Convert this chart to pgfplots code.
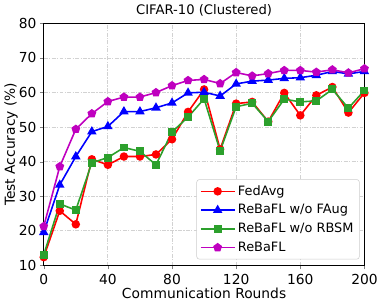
\documentclass[border=0pt]{standalone}
\usepackage{fontspec}
\setmainfont{DejaVu Sans}
\usepackage{pgfplots}
\pgfplotsset{compat=1.18}
\definecolor{mpred}{HTML}{FF0000}
\definecolor{mpblue}{HTML}{0000FF}
\definecolor{mpgreen}{HTML}{2CA02C}
\definecolor{mpmag}{HTML}{BF00BF}
\begin{document}
\begin{tikzpicture}
\begin{axis}[
  scale only axis,
  width=243.75pt, height=184pt,
  xmin=0, xmax=200, ymin=10, ymax=80,
  xtick={0,40,80,120,160,200},
  ytick={10,20,30,40,50,60,70,80},
  /pgf/number format/assume math mode=true,
  tick label style={font=\fontsize{10.5}{12}\selectfont},
  yticklabel style={xshift=1pt},
  label style={font=\fontsize{10.5}{12}\selectfont},
  title style={font=\fontsize{10}{12}\selectfont, yshift=-4pt},
  title={CIFAR-10 (Clustered)},
  xlabel={Communication Rounds},
  ylabel={Test Accuracy (\%)},
  xlabel style={yshift=4pt},
  ylabel style={yshift=-6pt},
  grid=major,
  major grid style={gray!35, line width=0.6pt, dash pattern=on 3pt off 1pt on 1pt off 1pt},
  tick align=outside,
  tick pos=left,
  major tick length=3pt,
  axis line style={line width=0.6pt},
  legend style={font=\fontsize{9.8}{11}\selectfont, draw=gray!40, rounded corners=2pt, at={(0.985,0.025)}, anchor=south east, row sep=1.5pt, inner sep=2.5pt},
  legend cell align=left,
  legend image code/.code={\draw[line width=1.2pt, mark repeat=2, mark phase=2] plot coordinates {(0cm,0cm)(0.45cm,0cm)(0.9cm,0cm)};},
  every axis plot/.append style={line width=1.2pt},
]
\addplot[color=mpred, mark=*, mark size=2.6pt] coordinates {
(0,12.4)(10,25.8)(20,21.9)(30,40.7)(40,39.1)(50,41.5)(60,41.5)(70,42.1)(80,46.5)(90,54.4)(100,60.9)
(110,43.6)(120,56.8)(130,57.3)(140,51.6)(150,59.9)(160,53.4)(170,59.2)(180,61.6)(190,54.2)(200,59.9)};
\addlegendentry{FedAvg}
\addplot[color=mpblue, mark=triangle*, mark size=3pt] coordinates {
(0,19.6)(10,33.3)(20,41.5)(30,48.7)(40,50.2)(50,54.5)(60,54.5)(70,55.6)(80,57.0)(90,59.9)(100,60.1)
(110,59.0)(120,62.5)(130,63.3)(140,63.6)(150,64.1)(160,64.3)(170,65.0)(180,66.1)(190,65.4)(200,66.1)};
\addlegendentry{ReBaFL w/o FAug}
\addplot[color=mpgreen, mark=square*, mark size=2.4pt] coordinates {
(0,13.1)(10,27.8)(20,26.0)(30,39.7)(40,41.2)(50,44.1)(60,43.0)(70,39.1)(80,48.6)(90,52.9)(100,58.2)
(110,43.1)(120,55.9)(130,56.9)(140,51.6)(150,58.1)(160,57.3)(170,57.6)(180,60.9)(190,55.5)(200,60.6)};
\addlegendentry{ReBaFL w/o RBSM}
\addplot[color=mpmag, mark=pentagon*, mark size=2.8pt] coordinates {
(0,21.3)(10,38.6)(20,49.4)(30,53.9)(40,57.4)(50,58.7)(60,58.7)(70,60.0)(80,62.0)(90,63.5)(100,63.8)
(110,62.6)(120,65.8)(130,64.8)(140,65.5)(150,66.4)(160,66.4)(170,65.9)(180,66.6)(190,65.7)(200,66.9)};
\addlegendentry{ReBaFL}
\end{axis}
\end{tikzpicture}
\end{document}
